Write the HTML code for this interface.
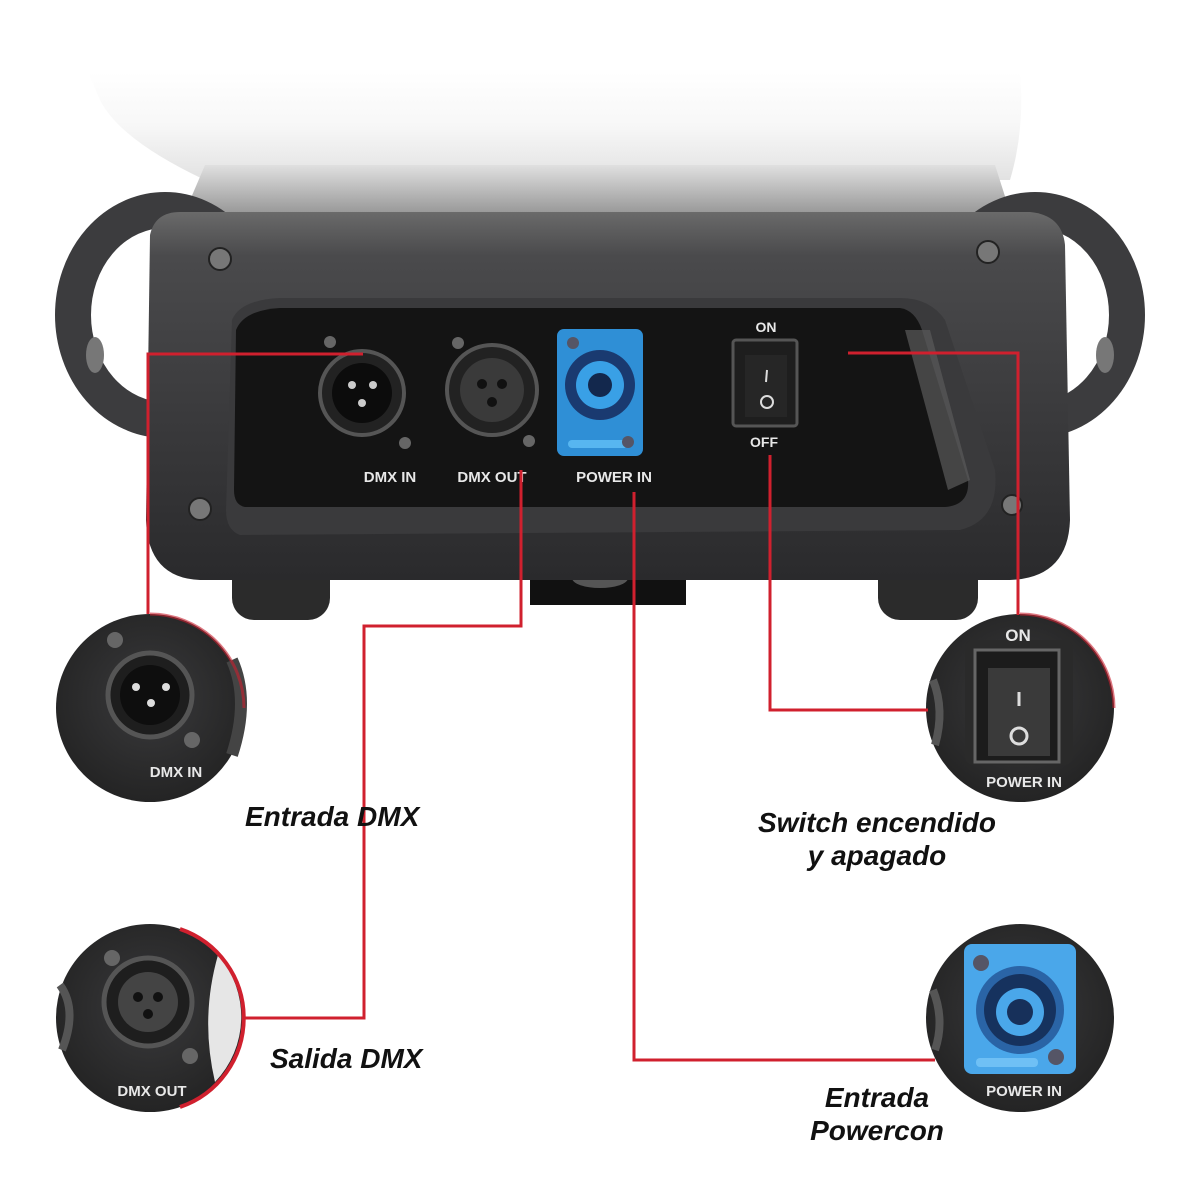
<!DOCTYPE html>
<html><head><meta charset="utf-8"><style>
html,body{margin:0;padding:0;background:#fff;}
svg{display:block;}
.lbl{font-family:"Liberation Sans",sans-serif;font-weight:bold;fill:#e8e8e8;}
.cap{font-family:"Liberation Sans",sans-serif;font-weight:bold;font-style:italic;fill:#111;font-size:28px;}
</style></head><body>
<svg width="1200" height="1194" viewBox="0 0 1200 1194" xmlns="http://www.w3.org/2000/svg">
<defs>
<linearGradient id="top" x1="0" y1="0" x2="0" y2="1">
<stop offset="0" stop-color="#ffffff"/><stop offset="0.5" stop-color="#f7f7f7"/><stop offset="1" stop-color="#e2e2e2"/></linearGradient>
<linearGradient id="tface" x1="0" y1="0" x2="0" y2="1">
<stop offset="0" stop-color="#e0e0e0"/><stop offset="1" stop-color="#9a9a9a"/></linearGradient>
<linearGradient id="face" x1="0" y1="0" x2="0" y2="1">
<stop offset="0" stop-color="#6a6a6a"/><stop offset="0.12" stop-color="#4a4a4c"/><stop offset="1" stop-color="#2a2a2c"/></linearGradient>
<radialGradient id="circ" cx="0.5" cy="0.45" r="0.6">
<stop offset="0" stop-color="#3a3a3c"/><stop offset="1" stop-color="#222"/></radialGradient>
</defs>
<!-- faded top -->
<path d="M88,72 L1020,72 Q1025,130 1010,180 L205,180 Q120,140 100,100 Z" fill="url(#top)"/>
<path d="M205,165 L995,165 L1010,212 L185,212 Z" fill="url(#tface)"/>
<!-- handles -->
<ellipse cx="165" cy="315" rx="92" ry="105" fill="none" stroke="#3c3c3e" stroke-width="36"/>
<ellipse cx="1035" cy="315" rx="92" ry="105" fill="none" stroke="#3c3c3e" stroke-width="36"/>
<ellipse cx="95" cy="355" rx="9" ry="18" fill="#777"/>
<ellipse cx="1105" cy="355" rx="9" ry="18" fill="#777"/>
<!-- feet -->
<rect x="232" y="530" width="98" height="90" rx="22" fill="#2b2b2b"/>
<rect x="878" y="530" width="100" height="90" rx="22" fill="#2b2b2b"/>
<rect x="530" y="555" width="156" height="50" fill="#111"/>
<ellipse cx="600" cy="578" rx="28" ry="10" fill="#555"/>
<!-- body -->
<path d="M150,235 Q155,212 180,212 L1030,212 Q1062,215 1065,245 L1070,520 Q1068,578 1010,580 L200,580 Q148,578 146,520 Z" fill="url(#face)"/>
<!-- recess -->
<path d="M232,320 Q240,300 280,298 L900,298 Q930,298 945,320 L995,470 Q1000,520 960,530 L240,535 Q226,530 226,510 Z" fill="#3a3a3c"/>
<path d="M236,330 Q244,310 280,308 L900,308 Q915,310 922,330 L968,480 Q970,505 945,507 L245,507 Q234,505 234,490 Z" fill="#141414"/>
<path d="M905,330 L930,330 L970,480 L948,490 Z" fill="#5a5a5a" opacity="0.7"/>
<!-- screws -->
<g fill="#777" stroke="#222" stroke-width="2">
<circle cx="220" cy="259" r="11"/><circle cx="988" cy="252" r="11"/>
<circle cx="200" cy="509" r="11"/><circle cx="1012" cy="505" r="10"/>
</g>
<!-- XLR in -->
<circle cx="362" cy="393" r="42" fill="#222" stroke="#555" stroke-width="4"/>
<circle cx="362" cy="393" r="30" fill="#0c0c0c"/>
<circle cx="352" cy="385" r="4" fill="#ccc"/><circle cx="373" cy="385" r="4" fill="#ccc"/><circle cx="362" cy="403" r="4" fill="#ccc"/>
<circle cx="330" cy="342" r="6" fill="#666"/><circle cx="405" cy="443" r="6" fill="#666"/>
<!-- XLR out -->
<circle cx="492" cy="390" r="45" fill="#222" stroke="#555" stroke-width="4"/>
<circle cx="492" cy="390" r="32" fill="#3a3a3a"/>
<circle cx="482" cy="384" r="5" fill="#111"/><circle cx="502" cy="384" r="5" fill="#111"/><circle cx="492" cy="402" r="5" fill="#111"/>
<circle cx="458" cy="343" r="6" fill="#666"/><circle cx="529" cy="441" r="6" fill="#666"/>
<!-- powercon -->
<rect x="557" y="329" width="86" height="127" rx="7" fill="#2f8fd6"/>
<circle cx="600" cy="385" r="35" fill="#1a3a70"/>
<circle cx="600" cy="385" r="24" fill="#39a0e6"/>
<circle cx="600" cy="385" r="12" fill="#13284d"/>
<rect x="568" y="440" width="60" height="8" rx="4" fill="#57b6f0"/>
<circle cx="573" cy="343" r="6" fill="#556"/><circle cx="628" cy="442" r="6" fill="#556"/>
<!-- switch -->
<rect x="733" y="340" width="64" height="86" rx="3" fill="#1e1e1e" stroke="#555" stroke-width="3"/>
<rect x="745" y="355" width="42" height="62" fill="#262626"/>
<line x1="767" y1="370" x2="766" y2="382" stroke="#ddd" stroke-width="2"/>
<circle cx="767" cy="402" r="6" fill="none" stroke="#ddd" stroke-width="2"/>
<text class="lbl" x="390" y="482" font-size="15" text-anchor="middle">DMX IN</text>
<text class="lbl" x="492" y="482" font-size="15" text-anchor="middle">DMX OUT</text>
<text class="lbl" x="614" y="482" font-size="15" text-anchor="middle">POWER IN</text>
<text class="lbl" x="766" y="332" font-size="14" text-anchor="middle">ON</text>
<text class="lbl" x="764" y="447" font-size="14" text-anchor="middle">OFF</text>

<!-- circles -->
<g>
<circle cx="150" cy="708" r="94" fill="url(#circ)"/>
<circle cx="150" cy="695" r="42" fill="#1e1e1e" stroke="#555" stroke-width="5"/>
<circle cx="150" cy="695" r="30" fill="#0e0e0e"/>
<circle cx="136" cy="687" r="4" fill="#ddd"/><circle cx="166" cy="687" r="4" fill="#ddd"/><circle cx="151" cy="703" r="4" fill="#ddd"/>
<circle cx="115" cy="640" r="8" fill="#666"/><circle cx="192" cy="740" r="8" fill="#666"/>
<path d="M232,660 Q250,700 232,755" stroke="#444" stroke-width="12" fill="none"/>
<text class="lbl" x="176" y="777" font-size="15" text-anchor="middle">DMX IN</text>
<path d="M150,614 A94,94 0 0 1 244,708" fill="none" stroke="#c8202e" stroke-width="3" opacity="0.6"/>
</g>
<g>
<circle cx="150" cy="1018" r="94" fill="url(#circ)"/>
<path d="M218,955 Q200,1018 215,1082 A94,94 0 0 0 218,955 Z" fill="#e6e6e6"/>
<circle cx="148" cy="1002" r="44" fill="#1e1e1e" stroke="#555" stroke-width="5"/>
<circle cx="148" cy="1002" r="30" fill="#444"/>
<circle cx="138" cy="997" r="5" fill="#111"/><circle cx="158" cy="997" r="5" fill="#111"/><circle cx="148" cy="1014" r="5" fill="#111"/>
<circle cx="112" cy="958" r="8" fill="#666"/><circle cx="190" cy="1056" r="8" fill="#666"/>
<path d="M60,985 Q78,1010 62,1050" stroke="#555" stroke-width="8" fill="none"/>
<text class="lbl" x="152" y="1096" font-size="15" text-anchor="middle">DMX OUT</text>
<path d="M180,929 A94,94 0 0 1 180,1107" fill="none" stroke="#d0202e" stroke-width="4"/>
</g>
<g>
<circle cx="1020" cy="708" r="94" fill="url(#circ)"/>
<rect x="965" y="640" width="108" height="125" rx="8" fill="#2a2a2a"/>
<rect x="975" y="650" width="84" height="112" fill="#1c1c1c" stroke="#666" stroke-width="3"/>
<rect x="988" y="668" width="62" height="88" fill="#3a3a3a"/>
<line x1="1019" y1="692" x2="1019" y2="706" stroke="#ddd" stroke-width="3"/>
<circle cx="1019" cy="736" r="8" fill="none" stroke="#ddd" stroke-width="3"/>
<path d="M933,680 Q945,710 935,745" stroke="#555" stroke-width="8" fill="none"/>
<text class="lbl" x="1018" y="641" font-size="17" text-anchor="middle">ON</text>
<text class="lbl" x="1024" y="787" font-size="15" text-anchor="middle">POWER IN</text>
<path d="M1020,614 A94,94 0 0 1 1114,708" fill="none" stroke="#c8202e" stroke-width="3" opacity="0.6"/>
</g>
<g>
<circle cx="1020" cy="1018" r="94" fill="url(#circ)"/>
<rect x="964" y="944" width="112" height="130" rx="8" fill="#4aa7ea"/>
<circle cx="1020" cy="1010" r="44" fill="#2a64a6"/>
<circle cx="1020" cy="1010" r="36" fill="#16325e"/>
<circle cx="1020" cy="1012" r="24" fill="#4aa7ea"/>
<circle cx="1020" cy="1012" r="13" fill="#17305a"/>
<rect x="976" y="1058" width="62" height="9" rx="4" fill="#6fc0f5"/>
<circle cx="981" cy="963" r="8" fill="#556"/><circle cx="1056" cy="1057" r="8" fill="#556"/>
<path d="M933,990 Q945,1020 935,1050" stroke="#555" stroke-width="8" fill="none"/>
<text class="lbl" x="1024" y="1096" font-size="15" text-anchor="middle">POWER IN</text>
</g>

<!-- red connectors -->
<g fill="none" stroke="#d0202e" stroke-width="3">
<polyline points="363,354 148,354 148,614"/>
<polyline points="521,470 521,626 364,626 364,1018 245,1018"/>
<polyline points="634,492 634,1060 935,1060"/>
<polyline points="770,455 770,710 928,710"/>
<polyline points="848,353 1018,353 1018,615"/>
</g>

<text class="cap" x="245" y="826">Entrada DMX</text>
<text class="cap" x="270" y="1068">Salida DMX</text>
<text class="cap" x="877" y="832" text-anchor="middle">Switch encendido</text>
<text class="cap" x="877" y="865" text-anchor="middle">y apagado</text>
<text class="cap" x="877" y="1107" text-anchor="middle">Entrada</text>
<text class="cap" x="877" y="1140" text-anchor="middle">Powercon</text>
</svg>
</body></html>
